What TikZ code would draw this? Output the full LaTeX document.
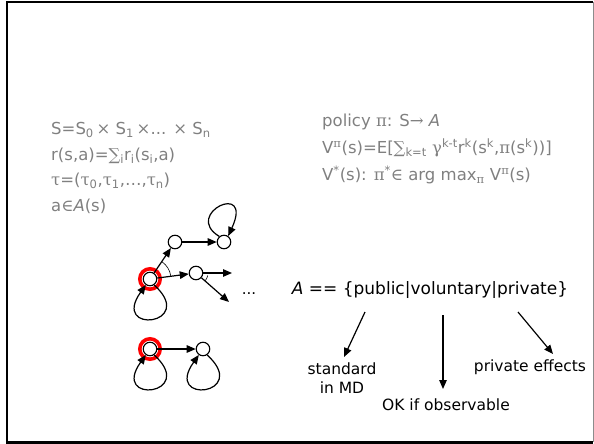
\documentclass[tikz,border=0pt]{standalone}
\usepackage{fontspec}
\setmainfont{DejaVu Sans}
\newfontfamily\symf{DejaVu Serif}
\usetikzlibrary{arrows.meta}
\definecolor{txtgray}{RGB}{128,128,128}
\newcommand{\sy}[1]{{\symf #1}}
\newcommand{\sbs}[1]{\textsubscript{#1}}
\newcommand{\sps}[1]{\textsuperscript{#1}}
\begin{document}
\begin{tikzpicture}[x=1pt,y=-1pt,
  every node/.style={inner sep=0pt},
  state/.style={circle,draw=black,fill=white,line width=1.1pt,minimum size=13.5pt},
  ring/.style={draw=red,line width=3.6pt},
  edge/.style={line width=1.2pt,-{Triangle[length=9pt,width=7.5pt]}},
  formula/.style={text=txtgray,anchor=west,font=\fontsize{16.5}{18}\selectfont},
  label/.style={font=\fontsize{15.5}{19}\selectfont,align=center}]
\useasboundingbox (0,0) rectangle (594,444);
% frame
\draw[black,line width=1.5pt] (7,2) -- (593,2);
\draw[black!45,line width=1pt] (593,2) -- (593,442);
\draw[black,line width=2.5pt] (7,1.5) -- (7,442.5) -- (593,442.5);

% state / reward definitions
\node[formula] (l1) at (51,130) {S=S\sbs{0}\,\sy{×} S\sbs{1}\,\sy{×}... \sy{×} S\sbs{n}};
\node[formula] (l2) at (51,156) {r(s,a)=\sy{∑}\sbs{i}r\sbs{i}(s\sbs{i},a)};
\node[formula] (l3) at (51,181) {\sy{τ}=(\sy{τ}\sbs{0},\sy{τ}\sbs{1},…,\sy{τ}\sbs{n})};
\node[formula] (l4) at (51,206) {a\sy{∈}\textit{A}(s)};

% policy and value
\node[formula] (p1) at (322,122) {policy \sy{π}: S\sy{→} \textit{A}};
\node[formula] (p2) at (322,148) {V\sps{\sy{π}}(s)=E[\sy{∑}\sbs{k=t} \sy{γ}\sps{k-t}r\sps{k}(s\sps{k},\sy{π}(s\sps{k}))]};
\node[formula] (p3) at (322,175) {V\sps{*}(s): \sy{π}\sps{*}\sy{∈} arg max\sbs{\sy{π}} V\sps{\sy{π}}(s)};

% transition graph
\draw[ring] (150,279) circle (10.2pt);
\draw[ring] (150,349) circle (10.2pt);
\node[state] (r1) at (150,279) {};
\node[state] (r2) at (150,349) {};
\node[state] (a) at (175,242) {};
\node[state] (b) at (224,242) {};
\node[state] (c) at (196,273) {};
\node[state] (d) at (203,349) {};
\coordinate (c1) at (232,273);
\coordinate (c2) at (229,302);

\draw[edge] (r1) -- (a);
\draw[edge] (r1) -- (c);
\draw[edge] (a) -- (b);
\draw[edge] (c) -- (c1);
\draw[edge] (c) -- (c2);
\draw[edge] (r2) -- (d);

% self loops
\draw[edge] (r1.-55) .. controls (198,325) and (110,335) .. (r1.-125);
\draw[edge] (r2.-55) .. controls (198,395) and (110,405) .. (r2.-125);
\draw[edge] (d.-55) .. controls (251,395) and (163,405) .. (d.-125);
\draw[edge] (b.130) .. controls (182,214) and (254,180) .. (b.55);

% angle marks
\draw[line width=0.6pt] (r1) ++(-8:21) arc (-8:-56:21);
\draw[line width=0.6pt] (c) ++(42:12) arc (42:12:12);

\node[font=\fontsize{15}{18}\selectfont] (dots) at (249,294) {...};

% action classes
\node[font=\fontsize{17}{20}\selectfont] (acts) at (430,290) {\textit{A} == \{public|voluntary|private\}};
\coordinate (s1) at (365,312);
\coordinate (s2) at (443,315);
\coordinate (s3) at (518,312);
\node[label] (std) at (342,378) {standard\\in MD};
\node[label] (ok) at (446,405) {OK if observable};
\node[label] (prv) at (530,367) {private effects};
\draw[edge] (s1) -- (344,357) coordinate (e1);
\draw[edge] (s2) -- (443,389) coordinate (e2);
\draw[edge] (s3) -- (553,354) coordinate (e3);
\end{tikzpicture}
\end{document}
